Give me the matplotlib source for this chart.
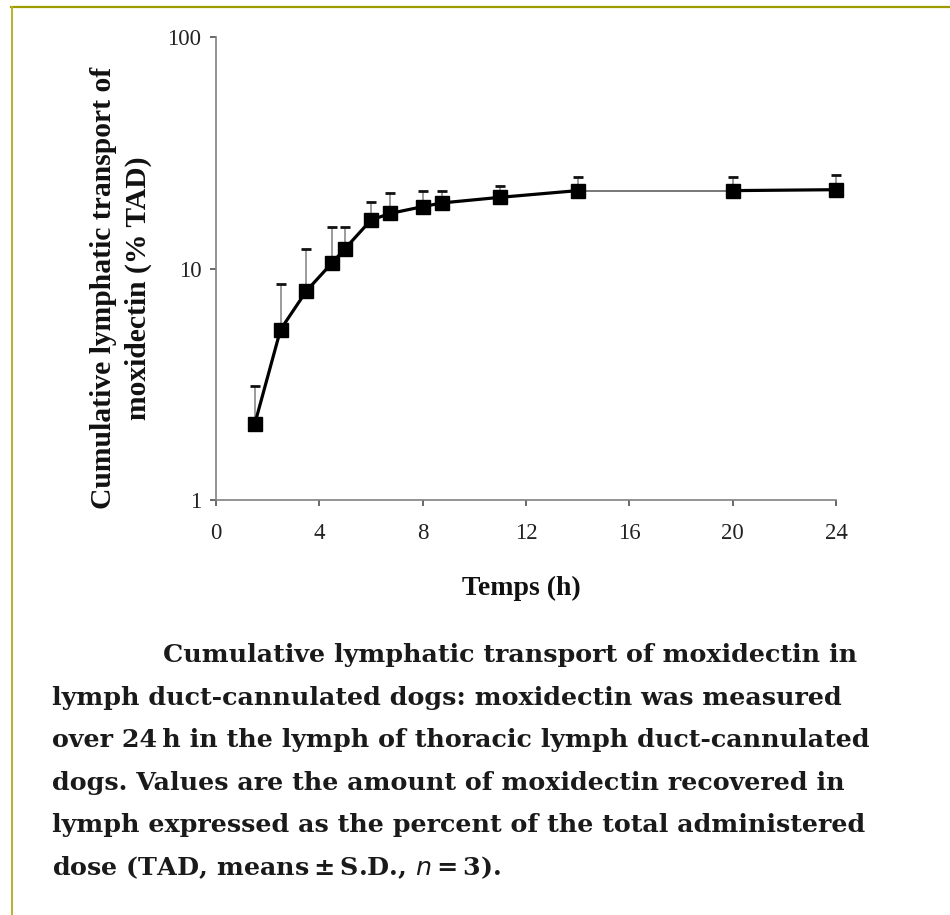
import matplotlib
matplotlib.use('Agg')

import matplotlib.pyplot as plt
from matplotlib.lines import Line2D
import numpy as np

# cumulative lymphatic transport of moxidectin (% TAD), mean and S.D.
hours = [1.5, 2.5, 3.5, 4.5, 5, 6, 6.75, 8, 8.75, 11, 14, 20, 24]
mean_tad = [2.13, 5.45, 8.0, 10.6, 12.2, 16.2, 17.3, 18.5, 19.2, 20.3, 21.7, 21.7, 21.9]
sd_tad = [0.97, 3.15, 4.2, 4.5, 2.9, 3.1, 3.8, 3.1, 2.5, 2.5, 3.2, 3.2, 3.4]

x_ticks = [0, 4, 8, 12, 16, 20, 24]
y_ticks = [1, 10, 100]
y_tick_labels = ["1", "10", "100"]

caption_lines = [
    "Cumulative lymphatic transport of moxidectin in",
    "lymph duct-cannulated dogs: moxidectin was measured",
    "over 24\u2009h in the lymph of thoracic lymph duct-cannulated",
    "dogs. Values are the amount of moxidectin recovered in",
    "lymph expressed as the percent of the total administered",
    "dose (TAD, means\u2009\u00b1\u2009S.D., $\\mathit{n}$\u2009=\u20093).",
]

W, H = 950, 915
SERIF = "Liberation Serif"
AXIS_GREY = "#808080"

fig = plt.figure(figsize=(W / 100, H / 100), dpi=100)
ax = fig.add_axes([216 / W, 1 - 500 / H, 620 / W, 463 / H])

# upper error bars only
mean_arr = np.array(mean_tad)
eb = ax.errorbar(hours, mean_arr, yerr=[np.zeros_like(mean_arr), sd_tad],
                 fmt="none", ecolor="#8a8a8a", elinewidth=1.2,
                 capsize=3.8, capthick=2.0, zorder=2)
for cap in eb[1]:
    cap.set_markeredgecolor("#111111")
    cap.set_clip_on(False)
for bars in eb[2]:
    bars.set_clip_on(False)

# thin connector over the gap between 14 h and 20 h, thick elsewhere
i14 = hours.index(14)
ax.plot(hours[i14:i14 + 2], mean_tad[i14:i14 + 2], "-", color="#606060", lw=1.2, zorder=3)
ax.plot(hours[:i14 + 1], mean_tad[:i14 + 1], "s-", color="black", lw=2.3,
        markersize=9.5, zorder=4, clip_on=False)
ax.plot(hours[i14 + 1:], mean_tad[i14 + 1:], "s-", color="black", lw=2.3,
        markersize=9.5, zorder=4, clip_on=False)

ax.set_yscale("log")
ax.set_xlim(0, 24)
ax.set_ylim(1, 100)
ax.set_xticks(x_ticks)
ax.set_xticklabels([str(t) for t in x_ticks])
ax.set_yticks(y_ticks)
ax.set_yticklabels(y_tick_labels)
ax.yaxis.set_minor_locator(matplotlib.ticker.NullLocator())

for side in ["top", "right"]:
    ax.spines[side].set_visible(False)
for side in ["left", "bottom"]:
    ax.spines[side].set_color(AXIS_GREY)
    ax.spines[side].set_linewidth(1.2)

ax.tick_params(axis="both", direction="out", length=4.5, width=1.1, color="#404040",
               labelsize=16.5, labelcolor="#222222")
ax.tick_params(axis="x", pad=12)
ax.tick_params(axis="y", pad=6)
for lab in ax.get_xticklabels() + ax.get_yticklabels():
    lab.set_fontfamily(SERIF)

fig.text(121 / W, 1 - 288 / H,
         "Cumulative lymphatic transport of\nmoxidectin (% TAD)",
         rotation=90, ha="center", va="center", family=SERIF,
         fontsize=21.3, fontweight="bold", linespacing=1.4, color="#111111")
fig.text(521 / W, 1 - 588 / H, "Temps (h)", ha="center", va="center",
         family=SERIF, fontsize=20, fontweight="bold", color="#111111")

# caption
for k, line in enumerate(caption_lines):
    x0 = 163 if k == 0 else 52
    fig.text(x0 / W, 1 - (655 + 42.6 * k) / H, line, ha="left", va="center",
             family="DejaVu Serif", fontsize=18.3, fontweight="bold", color="#1a1a1a")

# frame lines
fig.add_artist(Line2D([11 / W, 1], [1 - 7 / H, 1 - 7 / H], color="#9c9c00", lw=1.6))
fig.add_artist(Line2D([11.5 / W, 11.5 / W], [0, 1 - 7 / H], color="#b3b32a", lw=1.4))

fig.savefig("out.png", dpi=100)
